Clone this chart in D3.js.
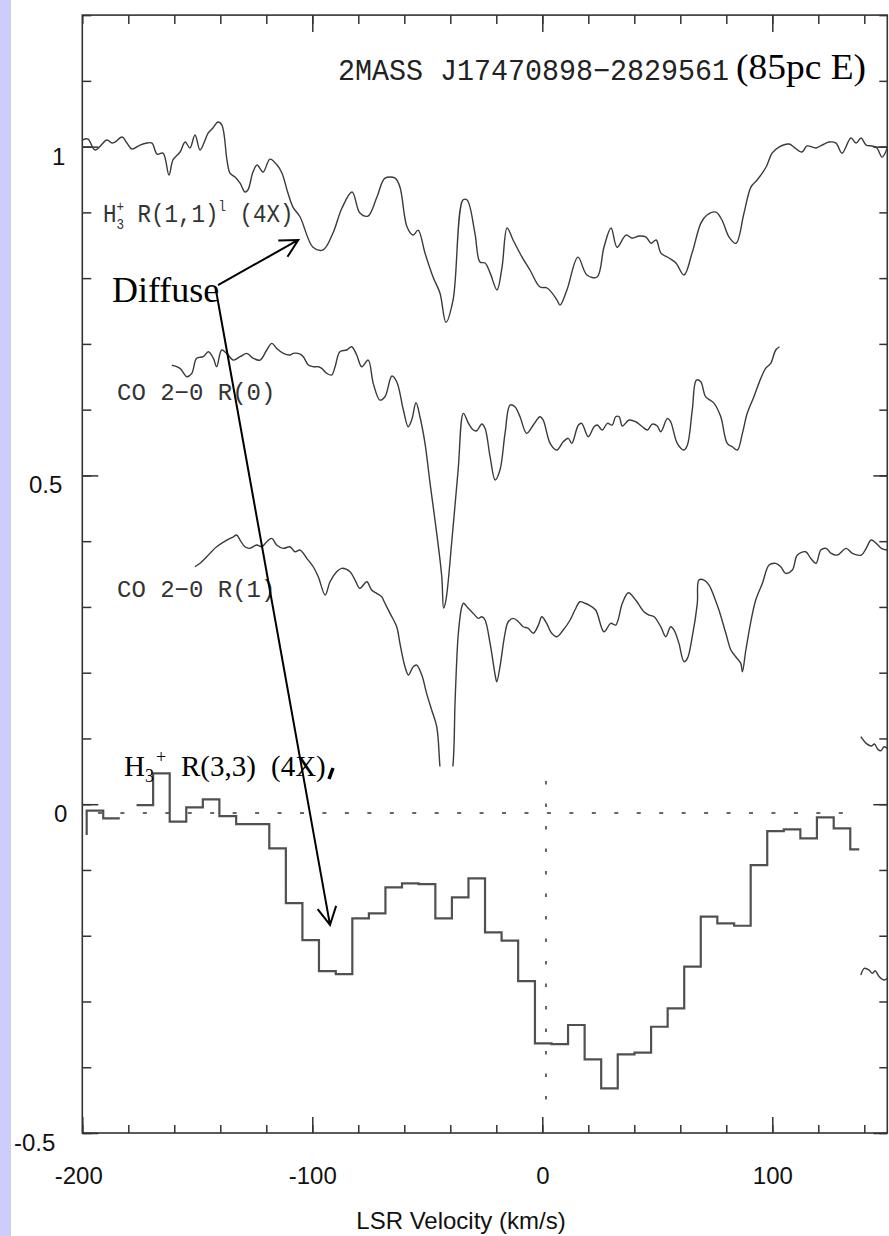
<!DOCTYPE html>
<html><head><meta charset="utf-8">
<script src="https://cdn.jsdelivr.net/npm/d3@7"></script>
<style>body{margin:0;background:#fff}svg{display:block}</style>
</head><body><svg id="c" width="889" height="1236"></svg>
<script>
// ---- data (velocity km/s, relative intensity) ----
const h3p11 = [[-200,1.010],[-197.5,1.0115],[-194.5,0.9948],[-189.3,1.010],[-187.1,1.0054],[-185.8,1.007],[-182.7,1.0146],[-180.6,1.0054],[-178.4,0.9963],[-174.9,1.0024],[-171.9,1.0054],[-169.7,1.0054],[-167.5,0.9887],[-164.9,0.990],[-162.3,0.9568],[-160.6,0.9796],[-157.5,0.9918],[-155.3,1.007],[-153.2,0.998],[-151.0,1.0176],[-148.8,0.9948],[-146.6,1.010],[-145.3,1.0206],[-143.2,1.0283],[-141.0,1.0374],[-139.3,1.0328],[-137.1,0.9796],[-135.8,0.9598],[-133.6,0.9537],[-131.4,0.9446],[-129.3,0.931],[-128.0,0.934],[-125.8,0.9613],[-124.0,0.972],[-121.4,0.9613],[-118.4,0.981],[-115.3,0.972],[-113.2,0.9598],[-110.6,0.9294],[-108.4,0.908],[-105.3,0.893],[-99.7,0.847],[-95.3,0.843],[-91.0,0.8686],[-87.1,0.9066],[-82.7,0.931],[-79.3,0.899],[-75.8,0.8944],[-71.9,0.9233],[-68.4,0.952],[-64.0,0.952],[-61.9,0.9385],[-58.8,0.8777],[-56.2,0.8655],[-54.0,0.873],[-51.0,0.838],[-47.5,0.8017],[-44.5,0.7773],[-41.9,0.733],[-38.8,0.7667],[-34.5,0.9188],[-32.7,0.9188],[-29.3,0.8686],[-27.1,0.8245],[-24.9,0.823],[-22.7,0.808],[-19.7,0.782],[-17.5,0.8169],[-15.3,0.8762],[-12.7,0.858],[-8.8,0.832],[-5.3,0.812],[-1.0,0.7865],[2.1,0.785],[6.4,0.7667],[7.7,0.759],[10.7,0.782],[15.5,0.832],[19.4,0.8047],[23.8,0.8017],[26.8,0.847],[29.9,0.8762],[32.5,0.847],[36.4,0.8655],[39.0,0.861],[42.1,0.864],[45.1,0.8625],[47.3,0.853],[49.5,0.858],[51.6,0.838],[55.1,0.8306],[58.1,0.823],[61.6,0.8047],[65.1,0.838],[69.0,0.884],[71.6,0.896],[75.5,0.9005],[78.1,0.8884],[81.2,0.8625],[84.2,0.853],[87.7,0.899],[90.7,0.9385],[93.4,0.9492],[97.3,0.969],[99.9,0.990],[102.9,0.9993],[107.3,1.0039],[109.4,0.9993],[112.9,0.9918],[115.1,1.001],[119.0,0.998],[121.6,1.0024],[124.7,1.007],[127.7,1.0054],[130.3,0.990],[134.2,1.013],[136.4,1.0054],[138.6,1.013],[140.8,1.0024],[143.4,1.001],[145.5,0.998],[147.7,0.984],[150.0,0.998]];

const coR0 = [[-161.1,0.6678],[-157.5,0.6628],[-154.6,0.6501],[-152.4,0.6552],[-150.3,0.678],[-147.4,0.6805],[-145.2,0.6881],[-143.0,0.678],[-141.6,0.6653],[-139.4,0.6907],[-137.2,0.6856],[-134.3,0.6754],[-131.4,0.6805],[-128.5,0.6856],[-125.6,0.678],[-122.7,0.6754],[-119.8,0.6907],[-117.6,0.7008],[-115.5,0.6932],[-112.6,0.6856],[-109.7,0.6831],[-108.3,0.6856],[-105.3,0.6846],[-103.9,0.6805],[-101.7,0.6678],[-99.6,0.6653],[-97.4,0.6653],[-95.9,0.6628],[-93.7,0.6552],[-91.6,0.6526],[-90.1,0.6653],[-88.0,0.6881],[-85.0,0.6907],[-82.9,0.6957],[-80.7,0.6831],[-78.5,0.6653],[-75.7,0.6754],[-73.5,0.640],[-70.6,0.6146],[-68.4,0.6196],[-65.4,0.6511],[-63.3,0.6425],[-60.4,0.5994],[-58.3,0.574],[-56.8,0.5842],[-54.9,0.6105],[-53.2,0.5892],[-51.0,0.5488],[-48.8,0.4879],[-45.9,0.4119],[-43.7,0.3459],[-42.9,0.2983],[-41.9,0.3105],[-39.3,0.4017],[-36.6,0.5082],[-34.3,0.5944],[-32.1,0.5792],[-30.0,0.569],[-28.5,0.5679],[-26.3,0.5781],[-24.9,0.5716],[-22.7,0.5284],[-20.5,0.493],[-18.4,0.5082],[-16.2,0.564],[-14.0,0.607],[-11.9,0.6044],[-9.7,0.5892],[-6.8,0.564],[-3.9,0.5766],[-1.0,0.5892],[0.4,0.5842],[3.4,0.5488],[6.3,0.5386],[9.1,0.5512],[11.3,0.5564],[12.8,0.5488],[15.7,0.5766],[17.1,0.5792],[20.0,0.5588],[22.5,0.574],[23.9,0.5766],[26.1,0.569],[28.3,0.5792],[30.4,0.5766],[31.9,0.5892],[33.4,0.5892],[34.8,0.5751],[37.7,0.5842],[40.6,0.5816],[43.5,0.574],[45.7,0.569],[47.8,0.5781],[50.0,0.5751],[51.5,0.5664],[54.4,0.5868],[55.8,0.5816],[58.7,0.5488],[61.6,0.5386],[63.1,0.5462],[65.2,0.5994],[67.0,0.645],[68.9,0.6425],[71.0,0.6197],[74.7,0.6096],[77.6,0.5892],[80.4,0.5488],[82.6,0.5436],[84.8,0.5386],[87.0,0.564],[89.1,0.5944],[92.0,0.6197],[95.0,0.6476],[97.1,0.6628],[99.3,0.6704],[101.5,0.6907],[103.1,0.6957]];

const coR1 = [[-151.0,0.3611],[-148.8,0.3663],[-145.9,0.3763],[-141.6,0.3915],[-137.2,0.4017],[-134.3,0.4067],[-132.9,0.4093],[-131.4,0.4017],[-129.3,0.3915],[-127.1,0.3891],[-124.2,0.3941],[-122.0,0.3915],[-119.8,0.3991],[-117.6,0.4043],[-115.5,0.3941],[-112.6,0.3891],[-109.7,0.3915],[-107.5,0.3839],[-105.3,0.3865],[-102.4,0.3739],[-99.6,0.3611],[-97.4,0.3459],[-94.4,0.3181],[-92.3,0.3383],[-89.4,0.3535],[-87.2,0.3587],[-83.6,0.3535],[-81.4,0.3409],[-79.3,0.3283],[-76.3,0.3383],[-74.2,0.3257],[-72.0,0.3207],[-69.8,0.3155],[-69.1,0.3105],[-66.2,0.2902],[-63.3,0.2699],[-61.9,0.2446],[-59.7,0.2091],[-58.2,0.1964],[-56.1,0.2091],[-54.6,0.2116],[-52.4,0.1964],[-50.3,0.1686],[-48.1,0.1432],[-45.9,0.1178],[-44.5,0.057],[-43.2,0.0063],[-41.4,0.0063],[-38.9,0.057],[-37.9,0.1584],[-36.5,0.2599],[-35.0,0.3003],[-34.3,0.3055],[-32.2,0.2979],[-30.0,0.2902],[-27.8,0.2826],[-26.3,0.2851],[-24.9,0.2801],[-22.7,0.2446],[-20.5,0.1964],[-19.8,0.1862],[-18.4,0.2091],[-16.2,0.2599],[-14.8,0.2775],[-12.6,0.2826],[-10.4,0.2775],[-8.3,0.2699],[-6.1,0.2674],[-3.9,0.2599],[-1.7,0.2724],[-0.2,0.2851],[1.9,0.275],[4.1,0.2599],[6.3,0.2547],[9.1,0.2649],[12.1,0.2801],[14.2,0.2953],[16.4,0.3079],[18.6,0.3055],[20.3,0.3029],[23.2,0.2953],[26.8,0.2623],[29.8,0.2751],[31.9,0.2724],[34.8,0.3055],[37.4,0.3216],[40.6,0.3105],[44.2,0.2927],[46.4,0.2877],[48.6,0.2851],[51.5,0.2699],[53.7,0.2547],[55.8,0.2699],[57.3,0.2649],[59.4,0.2446],[61.6,0.2167],[63.1,0.2218],[65.2,0.2547],[67.4,0.3055],[68.1,0.3409],[70.3,0.3409],[72.5,0.3333],[74.7,0.3155],[76.8,0.2953],[79.8,0.2599],[82.0,0.2345],[84.1,0.2243],[86.3,0.2142],[87.0,0.2015],[88.5,0.2345],[90.8,0.2801],[92.8,0.3105],[95.7,0.3359],[98.6,0.3637],[101.5,0.3663],[103.7,0.3611],[105.8,0.3511],[108.7,0.3561],[110.9,0.3789],[114.5,0.3839],[116.7,0.3739],[119.0,0.3663],[121.1,0.3865],[123.4,0.3891],[125.6,0.3815],[128.3,0.3789],[132.1,0.3891],[134.8,0.3815],[138.7,0.3789],[140.8,0.3891],[143.0,0.4017],[145.2,0.3967],[147.4,0.3891],[150.0,0.3865]];

// fragments of neighbouring spectra at the right edge
const fragA = [[138.5,0.1026],[140.8,0.0925],[143.0,0.0885],[144.4,0.0915],[145.9,0.0834],[147.2,0.0813],[148.6,0.0874],[150.0,0.0849]];
const fragB = [[138.5,-0.2598],[140.0,-0.2496],[142.1,-0.2522],[143.5,-0.2572],[144.7,-0.2533],[146.5,-0.2624],[148.6,-0.2674],[150.0,-0.2648]];

// H3+ R(3,3) histogram: bin left edges, bin values (null = hidden bin)
const h33Edges = [-198.1,-190.9,-183.7,-176.4,-169.2,-162.0,-154.8,-147.6,-140.4,-133.1,-125.9,-118.7,-111.5,-104.3,-97.1,-89.8,-82.6,-75.4,-68.2,-61.0,-53.8,-46.5,-39.3,-32.1,-24.9,-17.7,-10.5,-3.2,4.0,11.2,18.4,25.6,32.8,40.1,47.3,54.5,61.7,68.9,76.1,83.4,90.6,97.8,105.0,112.2,119.4,126.7,133.9,137.8];
const h33Vals = [-0.0099,-0.0215,null,-0.0013,0.0470,-0.0266,-0.0048,0.0074,-0.0180,-0.0302,-0.0302,-0.0671,-0.1503,-0.2066,-0.2537,-0.2583,-0.1736,-0.1660,-0.1264,-0.1204,-0.1214,-0.1736,-0.1416,-0.1127,-0.1948,-0.2076,-0.2689,-0.3636,-0.3647,-0.3358,-0.3880,-0.4320,-0.3804,-0.3779,-0.3384,-0.3104,-0.2471,-0.1711,-0.1811,-0.1848,-0.0925,-0.0408,-0.0382,-0.0519,-0.0200,-0.0367,-0.0686];
const h33Lead = -0.0469;   // level drawn before first bin
const h33Zero = -0.0134;   // histogram panel baseline (dotted)
const h33ZeroSpan = [-193.2, 138.1];
const vlsrMark = 1.6;      // vertical dotted marker
const vlsrSpan = [0.0353, -0.4529];

const xMajor = [-200,-100,0,100];
const xMinor = d3.range(-200,150,20);
const yMajor = [-0.5,0,0.5,1];
const yMinor = d3.range(-5,13).map(d=>d/10);

// annotation arrows [start, tip] in data units
const arrows = [[[-141.0,0.7895],[-106.1,0.858]], [[-141.9,0.782],[-92.3,-0.1836]]];
const coClipFloor = 0.0575;

// ---- drawing ----
const svg = d3.select('#c');
svg.append('rect').attr('x',0).attr('y',0).attr('width',11).attr('height',1236).attr('fill','#cdcdfb');

const x = d3.scaleLinear().domain([-200,150]).range([82.3,887.3]);
const y = d3.scaleLinear().domain([-0.5,1.2]).range([1133,15.1]);

const axCol = '#333';
function styleAxis(g){ g.select('.domain').remove(); g.selectAll('line').attr('stroke',axCol).attr('stroke-width',1.5); }

// bottom
svg.append('g').attr('transform',`translate(0,${y(-0.5)})`)
  .call(d3.axisBottom(x).tickValues(xMinor).tickSize(-8).tickFormat('')).call(styleAxis);
const gb = svg.append('g').attr('transform',`translate(0,${y(-0.5)})`)
  .call(d3.axisBottom(x).tickValues(xMajor).tickSize(-16).tickPadding(34).tickFormat(d=>String(d))).call(styleAxis);
gb.selectAll('text').attr('font-family','"Liberation Sans",Arial,sans-serif').attr('font-size',24).attr('fill','#111')
  .attr('dx',d=>d===-200?-4:0);
// top
svg.append('g').attr('transform',`translate(0,${y(1.2)})`)
  .call(d3.axisTop(x).tickValues(xMinor).tickSize(-9).tickFormat('')).call(styleAxis);
svg.append('g').attr('transform',`translate(0,${y(1.2)})`)
  .call(d3.axisTop(x).tickValues(xMajor.filter(d=>d>-200)).tickSize(-17).tickFormat('')).call(styleAxis);
// left
svg.append('g').attr('transform',`translate(${x(-200)},0)`)
  .call(d3.axisLeft(y).tickValues(yMinor).tickSize(-9).tickFormat('')).call(styleAxis);
const gl = svg.append('g').attr('transform',`translate(${x(-200)},0)`)
  .call(d3.axisLeft(y).tickValues(yMajor).tickSize(-16).tickPadding(17).tickFormat(d=>String(d))).call(styleAxis);
gl.selectAll('text').attr('font-family','"Liberation Sans",Arial,sans-serif').attr('font-size',24).attr('fill','#111')
  .attr('dy','17.5px').attr('dx',d=>d===-0.5?-10:(d===0.5?-3:(d===0?2:0)));
// right
svg.append('g').attr('transform',`translate(${x(150)},0)`)
  .call(d3.axisRight(y).tickValues(yMinor).tickSize(-8).tickFormat('')).call(styleAxis);
svg.append('g').attr('transform',`translate(${x(150)},0)`)
  .call(d3.axisRight(y).tickValues(yMajor).tickSize(-14).tickFormat('')).call(styleAxis);
// frame
svg.append('rect').attr('x',x(-200)).attr('y',y(1.2)).attr('width',x(150)-x(-200)).attr('height',y(-0.5)-y(1.2))
  .attr('fill','none').attr('stroke',axCol).attr('stroke-width',1.6);

// axis title
svg.append('text').attr('x',461).attr('y',1229).attr('text-anchor','middle')
  .attr('font-family','"Liberation Sans",Arial,sans-serif').attr('font-size',24).attr('fill','#111')
  .text('LSR Velocity (km/s)');

// dotted reference lines
svg.append('line').attr('x1',x(h33ZeroSpan[0])).attr('x2',x(h33ZeroSpan[1])).attr('y1',y(h33Zero)).attr('y2',y(h33Zero))
  .attr('stroke','#666').attr('stroke-width',2).attr('stroke-dasharray','4 18.45');
svg.append('line').attr('x1',x(vlsrMark)).attr('x2',x(vlsrMark)).attr('y1',y(vlsrSpan[0])).attr('y2',y(vlsrSpan[1]))
  .attr('stroke','#666').attr('stroke-width',2).attr('stroke-dasharray','3.5 19');

// spectra
const line = d3.line().x(d=>x(d[0])).y(d=>y(d[1])).curve(d3.curveCatmullRom.alpha(0.5));
const specStyle = s=>s.attr('fill','none').attr('stroke','#3a3a3a').attr('stroke-width',1.4).attr('stroke-linejoin','round');
svg.append('path').datum(h3p11).attr('d',line).call(specStyle);
svg.append('path').datum(coR0).attr('d',line).call(specStyle);
svg.append('clipPath').attr('id','coclip').append('rect')
  .attr('x',x(-200)).attr('y',y(1.2)).attr('width',x(150)-x(-200)).attr('height',y(coClipFloor)-y(1.2));
svg.append('path').datum(coR1).attr('d',line).attr('clip-path','url(#coclip)').call(specStyle);
svg.append('path').datum(fragA).attr('d',line).call(specStyle);
svg.append('path').datum(fragB).attr('d',line).call(specStyle);

// histogram
const hp = d3.path();
h33Vals.forEach((v,i)=>{
  if(v===null) return;
  const x0 = x(h33Edges[i]), x1 = x(h33Edges[i+1]);
  if(i===0){ hp.moveTo(x0,y(h33Lead)); hp.lineTo(x0,y(v)); }
  else if(h33Vals[i-1]===null){ hp.moveTo(x0,y(v)); }
  else hp.lineTo(x0,y(v));
  hp.lineTo(x1,y(v));
});
svg.append('path').attr('d',hp.toString()).attr('fill','none').attr('stroke','#505050').attr('stroke-width',2.2);

// labels in plot
const mono = '"Liberation Mono","DejaVu Sans Mono",monospace';
const serif = '"Liberation Serif","Times New Roman",serif';
svg.append('text').attr('x',338).attr('y',80).attr('font-family',mono).attr('font-size',29).attr('fill','#222')
  .attr('textLength',391).attr('lengthAdjust','spacingAndGlyphs').text('2MASS J17470898\u22122829561');
svg.append('text').attr('x',736).attr('y',79).attr('font-family',serif).attr('font-size',35).attr('fill','#000')
  .attr('textLength',130).attr('lengthAdjust','spacingAndGlyphs').text('(85pc E)');

const t11 = svg.append('g').attr('transform','translate(103,221.5) scale(0.9,1)')
  .append('text').attr('font-family',mono).attr('font-size',25).attr('fill','#333');
t11.append('tspan').text('H');
t11.append('tspan').attr('font-size',14).attr('dy',7).text('3');
t11.append('tspan').attr('font-size',14).attr('dx',-8.4).attr('dy',-18).text('+');
t11.append('tspan').attr('dy',11).text(' R(1,1)');
t11.append('tspan').attr('font-size',14).attr('dy',-11).text('l');
t11.append('tspan').attr('dy',11).text(' (4X)');

svg.append('text').attr('x',117).attr('y',400).attr('font-family',mono).attr('font-size',24).attr('fill','#333').text('CO 2\u22120 R(0)');
svg.append('text').attr('x',117).attr('y',597).attr('font-family',mono).attr('font-size',24).attr('fill','#333').text('CO 2\u22120 R(1)');

const t33 = svg.append('text').attr('y',776).attr('font-family',serif).attr('font-size',29).attr('fill','#000');
t33.append('tspan').attr('x',124).text('H');
t33.append('tspan').attr('font-size',18).attr('dy',6).text('3');
t33.append('tspan').attr('font-size',18).attr('dx',2).attr('dy',-19).text('+');
t33.append('tspan').attr('x',181).attr('dy',13).text('R(3,3)');
t33.append('tspan').attr('x',271).text('(4X)');
svg.append('line').attr('x1',333).attr('y1',768).attr('x2',329).attr('y2',779).attr('stroke','#000').attr('stroke-width',3.5);

svg.append('text').attr('x',112).attr('y',302).attr('font-family',serif).attr('font-size',36).attr('fill','#000').text('Diffuse');

// arrows
arrows.forEach(([s,t])=>{
  const sx=x(s[0]), sy=y(s[1]), tx=x(t[0]), ty=y(t[1]);
  const a = Math.atan2(sy-ty, sx-tx), L=20, h=28*Math.PI/180;
  const p = d3.path();
  p.moveTo(sx,sy); p.lineTo(tx,ty);
  p.moveTo(tx+L*Math.cos(a+h), ty+L*Math.sin(a+h)); p.lineTo(tx,ty); p.lineTo(tx+L*Math.cos(a-h), ty+L*Math.sin(a-h));
  svg.append('path').attr('d',p.toString()).attr('fill','none').attr('stroke','#000').attr('stroke-width',2);
});
</script></body></html>
